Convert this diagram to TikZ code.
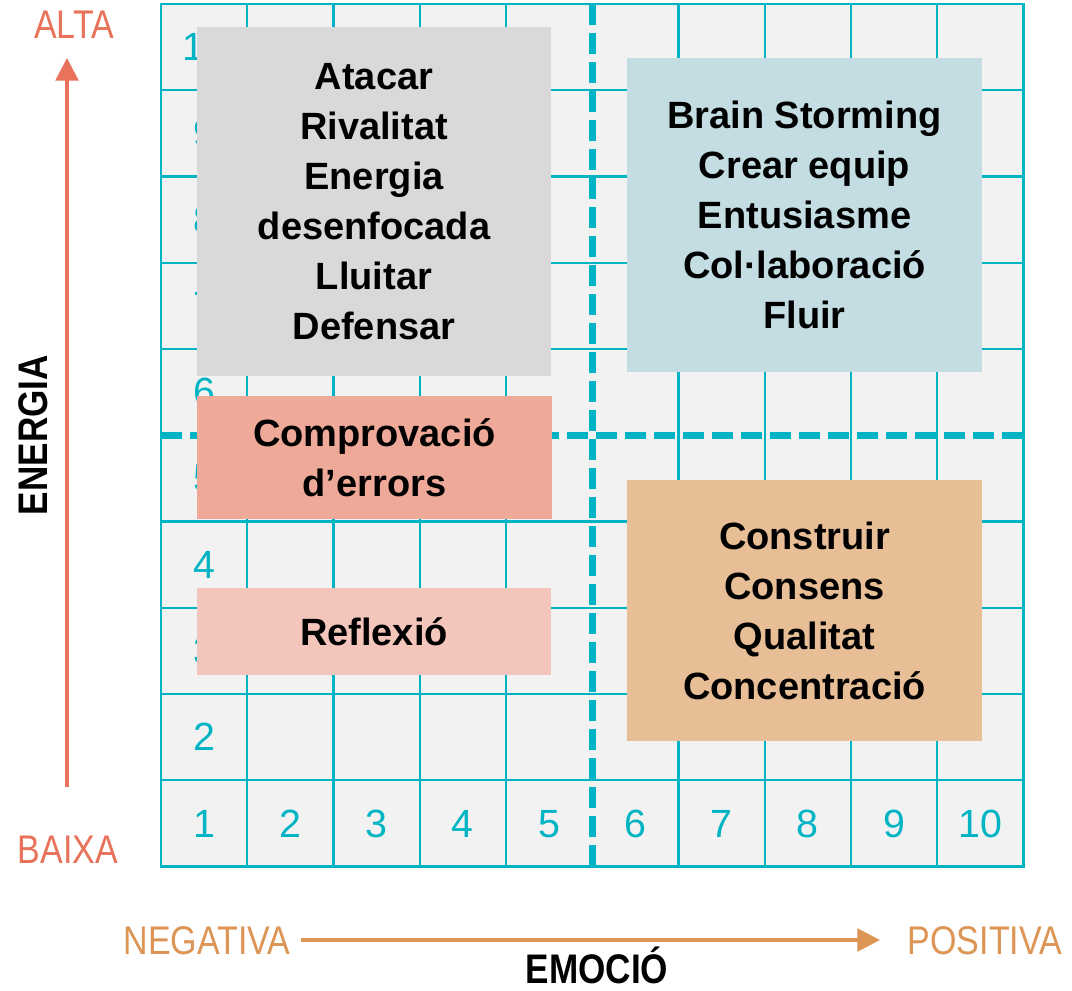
\documentclass[tikz,border=0pt]{standalone}
\usepackage{fontspec}
\setmainfont{Liberation Sans}
\newfontfamily\thinlbl[FakeStretch=0.85]{Liberation Sans}
\newfontfamily\boldlbl[FakeStretch=0.85]{Liberation Sans}
\usetikzlibrary{arrows.meta}
\definecolor{gridteal}{RGB}{0,180,196}
\definecolor{gridbg}{RGB}{242,242,242}
\definecolor{energyred}{RGB}{232,115,90}
\definecolor{emotan}{RGB}{220,149,85}
\definecolor{boxgray}{RGB}{217,217,217}
\definecolor{boxsalmon}{RGB}{239,169,152}
\definecolor{boxpink}{RGB}{244,198,187}
\definecolor{boxblue}{RGB}{195,221,227}
\definecolor{boxtan}{RGB}{232,190,150}
\begin{document}
\begin{tikzpicture}[x=0.75pt,y=-0.75pt,
  gridline/.style={draw=gridteal,line width=1.6pt},
  midline/.style={draw=gridteal,line width=5.5pt,dash pattern=on 15.75pt off 6pt},
  num/.style={text=gridteal,font=\fontsize{29.5}{30}\selectfont},
  axislbl/.style={font=\thinlbl\fontsize{30}{32}\selectfont},
  axistitle/.style={font=\boldlbl\bfseries\fontsize{31}{32}\selectfont},
  mood/.style={inner sep=0pt,align=center,minimum width=266pt,
    font=\bfseries\fontsize{28.5}{37.5}\selectfont}]
\useasboundingbox (0,0) rectangle (1072,990);
\fill[white] (0,0) rectangle (1072,990);

% grid
\fill[gridbg] (161,4) rectangle (1023.5,866.5);
\foreach \i in {1,2,3,4,6,7,8,9}{
  \draw[gridline] ({161+\i*86.25},4) -- ({161+\i*86.25},866.5);
  \draw[gridline] (161,{4+\i*86.25}) -- (1023.5,{4+\i*86.25});
}
\draw[gridline] (161,4) rectangle (1023.5,866.5);

% numbers
\foreach \n in {1,...,10}
  \node[num] (col\n) at ({161+(\n-0.5)*86.25},824) {\n};
\foreach \n in {2,...,10}
  \node[num] (row\n) at (204.5,{866.5-(\n-0.5)*86.25}) {\n};

% quadrant lines
\draw[midline] (592.25,4) -- (592.25,866.5);
\draw[midline] (161,435.25) -- (1023.5,435.25);

% boxes
\node[mood,fill=boxgray,minimum height=261.75pt] (atacar) at (374,201.5)
  {Atacar\\Rivalitat\\Energia\\desenfocada\\Lluitar\\Defensar};
\node[mood,fill=boxsalmon,minimum height=92.25pt] (errors) at (374.5,457.5)
  {Comprovació\\d’errors};
\node[mood,fill=boxpink,minimum height=65.25pt] (reflexio) at (374,631.5)
  {Reflexió};
\node[mood,fill=boxblue,minimum height=235.5pt] (brain) at (804.5,215)
  {Brain Storming\\Crear equip\\Entusiasme\\Col·laboració\\Fluir};
\node[mood,fill=boxtan,minimum height=195.75pt] (construir) at (804.5,610.5)
  {Construir\\Consens\\Qualitat\\Concentració};

% energy axis
\node[axislbl,text=energyred] (alta) at (74,25) {ALTA};
\node[axislbl,text=energyred] (baixa) at (68,850) {BAIXA};
\coordinate (eLow) at (67,787);
\coordinate (eHigh) at (67,58);
\draw[energyred,line width=2.6pt,-{Triangle[length=17pt,width=17pt]}] (eLow) -- (eHigh);
\node[axistitle,rotate=90] (energia) at (33,435) {ENERGIA};

% emotion axis
\node[axislbl,text=emotan] (negativa) at (207,941) {NEGATIVA};
\node[axislbl,text=emotan] (positiva) at (985,941) {POSITIVA};
\coordinate (mLeft) at (301,940);
\coordinate (mRight) at (880,940);
\draw[emotan,line width=2.6pt,-{Triangle[length=17pt,width=17pt]}] (mLeft) -- (mRight);
\node[axistitle,anchor=base,inner sep=0pt] (emocio) at (597,983) {EMOCIÓ};
\end{tikzpicture}
\end{document}
